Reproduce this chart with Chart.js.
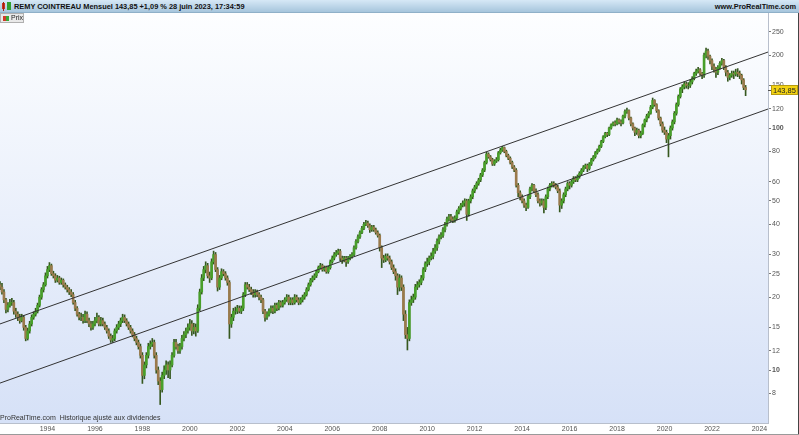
<!DOCTYPE html>
<html><head><meta charset="utf-8">
<script src="https://cdn.jsdelivr.net/npm/chart.js@4"></script>
<style>
html,body{margin:0;padding:0;background:#fff;}
#wrap{position:relative;width:799px;height:435px;overflow:hidden;font-family:"Liberation Sans",Arial,sans-serif;}
#c{position:absolute;left:0;top:0;}
#bar{position:absolute;left:0;top:0;width:799px;height:13px;background:linear-gradient(#d6e8f6,#a6c5dc);border-bottom:1px solid #8fb0c8;box-sizing:border-box;}
#ttl{position:absolute;left:14px;top:0;line-height:13px;font-size:7.4px;font-weight:bold;color:#111;white-space:nowrap;}
#site{position:absolute;right:3px;top:0;line-height:13px;font-size:7.4px;font-weight:bold;color:#111;white-space:nowrap;}
#ico{position:absolute;left:1px;top:2px;width:11px;height:9px;}
#ico i{position:absolute;display:block;}
#prix{position:absolute;left:0;top:13px;width:24px;height:10px;background:#e9e9e9;border:1px solid #b0b0b0;box-sizing:border-box;font-size:7px;line-height:8px;color:#222;}
#prix span{position:absolute;left:10px;top:0;}
#prix i{position:absolute;top:2px;width:3px;height:5px;display:block;}
#foot{position:absolute;left:0;top:413px;font-size:7px;line-height:10px;color:#333;white-space:nowrap;}
#fr{position:absolute;left:798px;top:13px;width:1px;height:422px;background:#444;}
#fb{position:absolute;left:0;top:434px;width:799px;height:1px;background:#9a9a9a;}
</style>
</head><body>
<div id="wrap">
<canvas id="c" width="799" height="435"></canvas>
<div id="bar">
 <div id="ico"><i style="left:1px;top:1px;width:3px;height:6px;background:#d03020;"></i><i style="left:2px;top:0;width:1px;height:9px;background:#a02010;"></i><i style="left:6px;top:0;width:4px;height:8px;background:#30a030;"></i></div>
 <div id="ttl">REMY COINTREAU Mensuel 143,85 +1,09 % 28 juin 2023, 17:34:59</div>
 <div id="site">www.ProRealTime.com</div>
</div>
<div id="prix"><i style="left:2px;background:#d03a2a;"></i><i style="left:5px;background:#38a838;"></i><span>Prix</span></div>
<div id="foot">ProRealTime.com&nbsp; Historique ajusté aux dividendes</div>
<div id="fr"></div><div id="fb"></div>
</div>
<script>
// Monthly data, Jan 1992 .. Jun 2023
const startYear = 1992;
const firstOpen = 22.5;
const closes = [
 22,21,19.5,17.8,18.5,19,19,17.5,17,16.5,16,16.5,
 15,13.5,14.5,15.5,16.5,17,17.5,18.5,20,21.5,22.5,24.5,
 26,27,25,24.5,23.5,24,23,23.5,22.5,22,21.5,21,
 20.5,19,18,17,16.5,16.5,16,17,16,15.5,15,15.5,
 16,16.5,15.5,16,15.5,15,14.5,13.8,13.3,13.5,14.5,15,
 15.5,16,16.5,16,15.5,15,14.5,14,13.5,13,12.5,11.5,
 9.5,10.5,11.5,12.5,12.8,13,11.5,10,9,8.3,9.5,10,
 10.5,10,10.5,11.5,13,12.5,12,12.5,13.5,14,14.5,15,
 15.5,14.5,15,14.5,18,21,24,26,27,24.5,24,28,
 30,26,22,24,25.5,25,24,23,15.5,16.5,17.5,17.5,
 18,17.5,18,20.5,22.5,22,21.5,21,20.5,21,20.5,20,
 19.5,17.5,16.5,17,17.5,18,17.5,18.5,18,19,18.5,19,
 19.5,20,19,19.5,19,20,19.5,19,19.5,20,20.5,21.5,
 22.5,23.5,24,24.5,25.5,26.5,27,26,26.5,25.5,26.5,28,
 29,30,30.5,31,29,28.5,29,28,29,29.5,30,32,
 34,35.5,37,38.5,40,40.5,39.5,38,39,38,37,36,
 32,29,28.5,29.5,29,28,26.5,25.5,24.5,22,24,22,
 17,14,13.5,19,19.5,20,22,22.5,23,24,26,27.5,
 28,29,29.5,31,32,34,35.5,36,38,40,42,43,
 42,41.5,42.5,45,46.5,48,49,50,44,50,52,55,
 57,59,61,64,67,72,78,76,74,71,73,74,
 79,81,83,80,77,75,72,69,67,58,54,52,
 50,48,47,52,56,58,55,53,50,49,50,47,
 52,56,58,59,58,57,55,48,50,53,56,59,
 58,60,62,61,63,65,67,69,70,68,71,74,
 76,79,81,84,88,92,95,94,100,103,105,104,
 108,106,105,112,117,118,110,104,100,96,98,93,
 95,103,108,112,115,122,130,125,118,110,104,98,
 96,90,93,100,106,115,125,135,145,148,152,150,
 150,155,160,168,172,174,168,165,200,208,198,190,
 180,175,170,178,185,190,178,170,162,165,168,167,
 170,168,165,158,147,143.85
];
const highs = [
 23.2,22.8,21.5,19.8,19,19.6,19.8,19.4,18,17.4,17,17,
 16.8,15.3,14.9,15.9,16.9,17.4,18,18.9,20.4,21.9,23,25.2,
 26.8,27.8,27.4,25.6,25,24.6,24.4,24,23.8,22.9,22.4,21.9,
 21.5,20.9,19.4,18.3,17.3,17.2,17,17.5,17.4,16.4,15.9,15.9,
 16.5,17.2,16.8,16.5,16.4,15.8,15.3,14.8,14.1,13.9,14.8,15.4,
 15.9,16.4,17,16.9,16.3,15.8,15.3,14.8,14.3,13.8,13.3,12.8,
 11.8,10.8,11.8,12.9,13.2,13.5,13.3,11.8,10.3,9.3,9.8,10.4,
 10.9,10.8,10.9,11.8,13.4,13.4,12.8,12.9,13.9,14.4,14.9,15.5,
 16.2,16,15.6,15.5,18.6,21.6,24.8,26.8,28,27.6,25.4,28.8,
 31,30.6,26.5,24.6,26.2,26,25.5,24.5,23.4,17,18,18.2,
 18.5,18.4,18.4,20.9,23,23,22.6,22,21.5,21.5,21.4,20.9,
 20.4,19.8,17.8,17.4,17.9,18.4,18.4,18.9,18.9,19.4,19.3,19.4,
 19.9,20.5,20.4,19.9,19.9,20.5,20.4,19.9,19.9,20.4,20.9,21.9,
 22.9,23.9,24.5,25,25.9,26.9,27.6,27.4,26.9,26.9,26.9,28.5,
 29.6,30.6,31.2,31.6,31.5,29.6,29.5,29.5,29.5,30,30.6,32.6,
 34.6,36.2,37.6,39.2,40.8,41.5,41.2,40.2,39.6,39.6,38.6,37.6,
 36.5,32.6,29.8,30.2,30.2,29.6,28.5,27.2,26.2,25,24.8,24.5,
 22.5,17.6,15,19.5,20.2,20.6,22.6,23.2,23.6,24.6,26.5,28,
 29,29.6,30.5,31.8,33,34.8,36.2,37,38.8,40.8,42.8,44,
 44,43,43.4,45.8,47.3,48.8,50,51,50.8,50.8,53,56,
 58,60,62,65,68,73,79.5,79,77,75,74,75.5,
 80,82.5,84,83.5,81,78,76,73,70,68,59,55,
 53,51,49,52.8,57,59,58.5,56,54,51,51,50.8,
 53,57,59,60,60,59,58,56,51,54,57,60,
 60,61,63,63,64,66,68,70,71,71,72,75,
 77,80,82,85,89,93,96,96,101,104,106,107,
 110,109,108,113,119,121,119,111,105,101,100,99,
 97,104,109,114,117,124,133,131,126,119,111,106,
 101,98,95,102,108,117,127,137,147,151,155,155,
 154,158,163,170,175,178,176,170,204,214,212,200,
 193,184,178,181,188,194,192,181,173,168,172,172,
 175,176,172,167,160,150
];
const lows = [
 21.5,20.6,19,17.2,17.4,18.2,18.5,17,16.5,16,15.6,15.8,
 14.6,13.2,13.3,14.2,15.2,16.2,16.7,17.2,18.2,19.6,21,22.2,
 24,25.5,24.6,24,23,23.1,22.6,22.6,22,21.6,21,20.5,
 20.1,18.7,17.6,16.7,16.1,16,15.6,15.7,15.7,15.1,14.6,14.7,
 15.2,15.7,15.2,15.2,15.2,14.7,14.2,13.5,13,13,13.2,14.2,
 14.7,15.1,15.7,15.7,15.2,14.7,14.2,13.7,13.2,12.7,12.2,11.2,
 8.8,9.2,10.2,11.2,12.2,12.5,11.2,9.7,8.7,7.2,8.1,9.2,
 9.6,9.3,9.2,10.3,11.3,12.2,11.7,11.7,12.2,13.2,13.6,14.2,
 14.6,13.9,14.1,13.8,14.3,17.6,20.6,23.4,25.2,24,23,23.6,
 27.4,25.5,21.2,21.5,23.6,24.5,23.5,22.4,13.5,15,16,17,
 17.1,17.2,17.1,17.6,20.1,21.6,21.1,20.5,20,20,20.1,19.5,
 19,17.1,15.9,16.2,16.7,17.2,17.1,17.2,17.6,17.7,18.2,18.2,
 18.7,19.2,18.6,18.6,18.6,18.7,19.1,18.6,18.7,19.1,19.6,20.2,
 21.2,22.2,23.1,23.6,24.1,25.2,26.1,25.6,25.6,25.1,25.1,26.1,
 27.6,28.5,29.5,30,28.3,27.6,28,26.8,27.6,28.5,29,29.6,
 31.6,33.5,35,36.6,38,39.5,38.8,37,37.4,37.4,36.4,35.4,
 31,26.5,27.8,28,28.4,27.4,26,25,23.5,20.5,21.2,21.3,
 16,13.5,12.1,13.2,18.5,19,19.6,21.5,22,22.5,23.5,25.5,
 26.8,27.2,28.5,28.8,30.3,31.2,33.2,34.8,35.3,37.2,39.3,41.2,
 41,40.6,40.8,41.8,44.2,45.8,47.2,47.5,41.5,43.2,49,51,
 54,56,58,60,63,66,71,75,73,70,70,72,
 73,78,80,79,76,74,71,68,66,57,52,50.5,
 49,47,45.5,46.5,51,55,54,52,49,47.5,48,44.6,
 46,51,55,57,57,56,54,45,46.5,49,52,55,
 56,57,59,60,60,62,64,66,68,66,67,70,
 73,75,78,80,83,87,91,92,93,99,102,102,
 103,104,102,104,110,115,108,102,98,93,94,91,
 91,94,101,106,110,114,120,123,116,108,102,96,
 94,87,76,90,98,104,113,123,133,140,145,146,
 145,147,152,158,165,169,165,160,162,195,192,184,
 174,170,162,166,175,182,174,164,156,158,162,160,
 164,163,160,152,144,136
];
const yTicks = [8,10,12,15,20,25,30,40,50,60,80,100,120,150,200,250];
const boldTicks = [10,100];
const xTicks = [1994,1996,1998,2000,2002,2004,2006,2008,2010,2012,2014,2016,2018,2020,2022,2024];
const upperLine = [{x:1992.0,y:15.5},{x:2024.36,y:206}];
const lowerLine = [{x:1992.0,y:8.83},{x:2024.36,y:119.8}];
const xMin = 1992.0, xMax = 2024.36, yMin = 6.04, yMax = 298.7;

const opens = closes.map((c,i)=> i===0 ? firstOpen : closes[i-1]);
const xs = closes.map((c,i)=> startYear + i/12);
const bodies = closes.map((c,i)=>({x:xs[i], y:[opens[i], c]}));
const wicks = closes.map((c,i)=>({x:xs[i], y:[lows[i], highs[i]]}));
const bodyColors = closes.map((c,i)=> c>=opens[i] ? '#489f2a' : '#9a7a4c');

const FONT = '"Liberation Sans", Arial, sans-serif';

const bgPlugin = {
  id:'bg',
  beforeDraw(chart){
    const {ctx, chartArea:a} = chart;
    ctx.save();
    const g = ctx.createLinearGradient(0,a.top,0,a.bottom);
    g.addColorStop(0,'#fdfeff');
    g.addColorStop(1,'#d6e1f7');
    ctx.fillStyle = g;
    ctx.fillRect(a.left,a.top,a.right-a.left,a.bottom-a.top);
    ctx.restore();
  }
};
const tagPlugin = {
  id:'tag',
  afterDraw(chart){
    const {ctx, chartArea:a} = chart;
    const v = closes[closes.length-1];
    const y = Math.round(chart.scales.y.getPixelForValue(v));
    ctx.save();
    ctx.fillStyle = '#f3d313';
    ctx.strokeStyle = '#b89c10';
    ctx.fillRect(a.right+3, y-5, 27, 10);
    ctx.strokeRect(a.right+3.5, y-4.5, 26, 9);
    ctx.strokeStyle = '#555';
    ctx.beginPath(); ctx.moveTo(a.right, y+0.5); ctx.lineTo(a.right+3, y+0.5); ctx.stroke();
    ctx.fillStyle = '#222';
    ctx.font = '7.5px ' + FONT;
    ctx.textBaseline = 'middle';
    ctx.fillText(v.toFixed(2).replace('.',','), a.right+5, y+0.5);
    ctx.restore();
  }
};

new Chart(document.getElementById('c'), {
  type:'bar',
  data:{
    datasets:[
      {type:'line', data:upperLine, borderColor:'#333', borderWidth:1, pointRadius:0, order:0},
      {type:'line', data:lowerLine, borderColor:'#333', borderWidth:1, pointRadius:0, order:0},
      {data:bodies, backgroundColor:bodyColors, barThickness:2, grouped:false, order:1},
      {data:wicks, backgroundColor:'#36581f', barThickness:1, grouped:false, order:2}
    ]
  },
  options:{
    responsive:false, devicePixelRatio:1, animation:false,
    layout:{padding:{top:13,left:0,right:0,bottom:0}},
    plugins:{legend:{display:false}, tooltip:{enabled:false}},
    scales:{
      x:{type:'linear', min:xMin, max:xMax, offset:false,
        afterBuildTicks(s){ s.ticks = xTicks.map(v=>({value:v})); },
        afterFit(s){ s.height = 12; },
        grid:{display:false, drawTicks:false, tickLength:0},
        border:{display:true, color:'#b8bfcc'},
        ticks:{autoSkip:false, maxRotation:0, padding:2, color:'#555', font:{size:7, family:FONT}, callback:v=>String(v)}
      },
      y:{type:'logarithmic', position:'right', min:yMin, max:yMax,
        afterBuildTicks(s){ s.ticks = yTicks.map(v=>({value:v, major:false})); },
        afterFit(s){ s.width = 31; },
        grid:{display:true, drawOnChartArea:false, drawTicks:true, tickLength:3, color:'#777'},
        border:{display:true, color:'#b8bfcc'},
        ticks:{padding:1, color:'#555', autoSkip:false,
          font:(c)=>({size:7, family:FONT, weight: (c.tick && boldTicks.includes(c.tick.value)) ? 'bold' : 'normal'}),
          callback:v=>String(v)}
      }
    }
  },
  plugins:[bgPlugin, tagPlugin]
});
</script>
</body></html>
